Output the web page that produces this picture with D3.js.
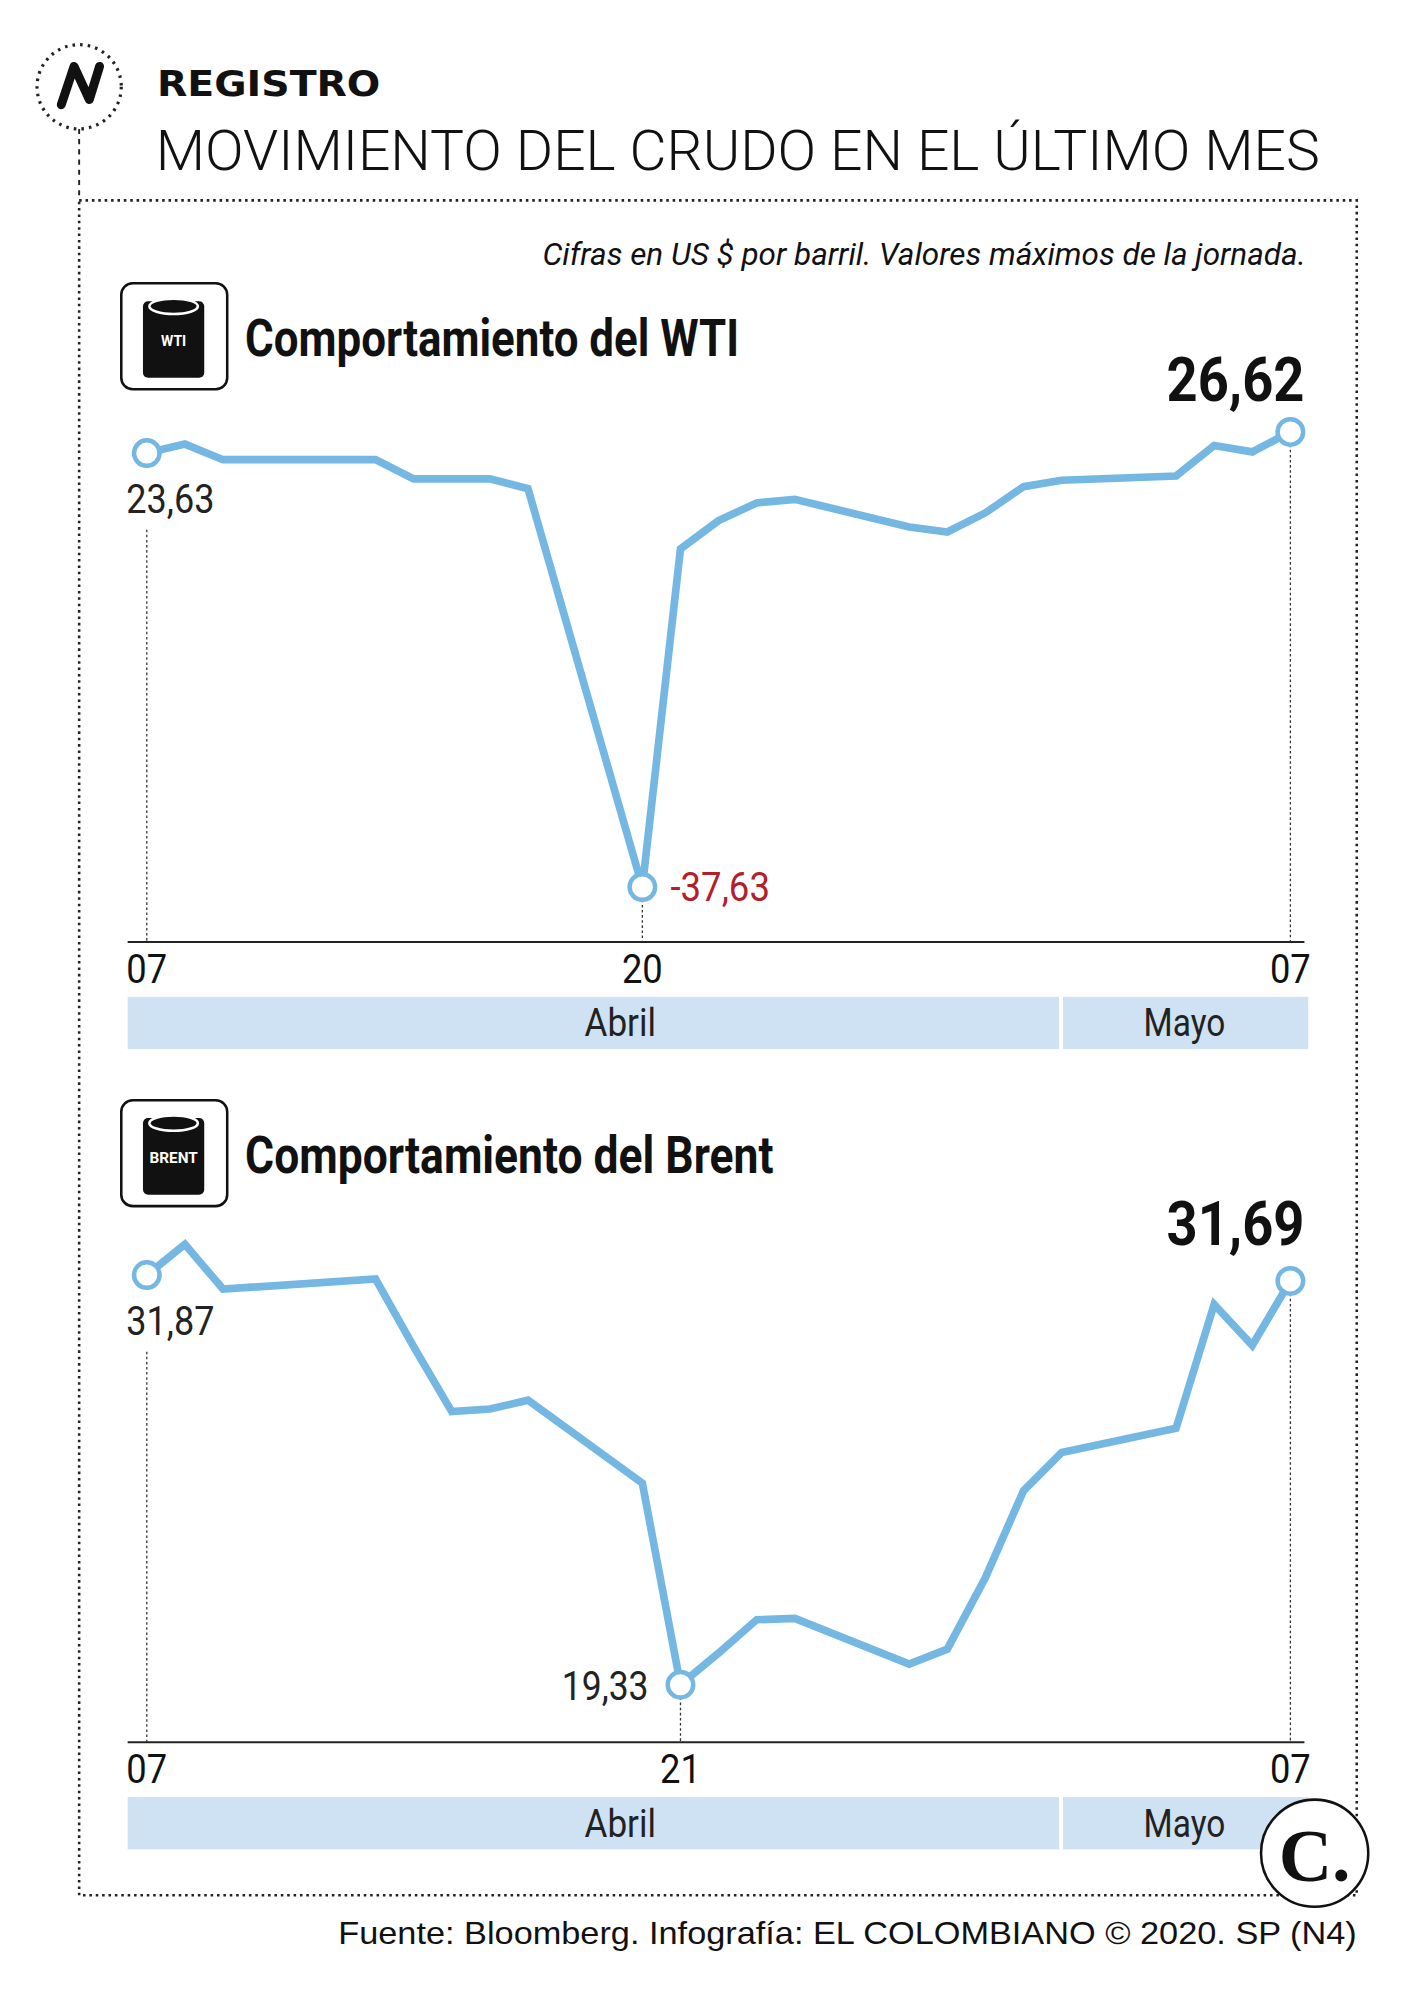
<!DOCTYPE html>
<html><head><meta charset="utf-8">
<script src="https://cdn.jsdelivr.net/npm/d3@7"></script>
<style>
body{margin:0;background:#fff}
svg{display:block}
.nar{font-family:Roboto,"DejaVu Sans Condensed",sans-serif}
</style></head><body>
<svg id="c" width="1404" height="2000" viewBox="0 0 1100 1567"></svg>
<script>
// Data: date strings (trading days) and daily highs
const wtiDates = ['2020-04-07','2020-04-08','2020-04-09','2020-04-13','2020-04-14','2020-04-15','2020-04-16','2020-04-17','2020-04-20','2020-04-21','2020-04-22','2020-04-23','2020-04-24','2020-04-27','2020-04-28','2020-04-29','2020-04-30','2020-05-01','2020-05-04','2020-05-05','2020-05-06','2020-05-07'];
const wtiValues = [23.63,24.9,22.7,22.7,20.0,20.0,20.0,18.6,-37.63,10.1,14.1,16.6,17.1,13.2,12.5,15.2,18.9,19.8,20.4,24.7,23.8,26.62];
const brentDates = wtiDates;
const brentValues = [31.87,32.81,31.44,31.75,29.68,27.69,27.77,28.04,25.5,19.33,20.3,21.32,21.36,19.96,20.42,22.61,25.27,26.44,27.18,30.97,29.72,31.69];
const months = [{name:'Abril', from:'2020-04-06', to:'2020-05-01'}, {name:'Mayo', from:'2020-05-01', to:'2020-05-07'}];

const svg = d3.select('#c');
const parse = d3.timeParse('%Y-%m-%d');
const fmt = v => d3.format('.2f')(Math.abs(v)).replace('.', ',');
const lineColor = '#74b7e3', bandColor = '#cfe2f3';
const x = d3.scaleTime().domain([parse('2020-04-07'), parse('2020-05-07')]).range([115, 1011]);

// condensed text: squeeze to the width seen in the original
function squeeze(sel, w) {
  return sel.attr('textLength', w).attr('lengthAdjust', 'spacingAndGlyphs');
}

// header
svg.append('circle').attr('cx',62).attr('cy',68).attr('r',33).attr('fill','none')
  .attr('stroke','#222').attr('stroke-width',2.5).attr('stroke-dasharray','2 4');
svg.append('path').attr('d','M48,82 L58,52 L70,78 L78,52').attr('fill','none')
  .attr('stroke','#111').attr('stroke-width',7).attr('stroke-linecap','round').attr('stroke-linejoin','round');
svg.append('line').attr('x1',62).attr('x2',62).attr('y1',101).attr('y2',157)
  .attr('stroke','#222').attr('stroke-width',1.5).attr('stroke-dasharray','4 4');
squeeze(svg.append('text').attr('x',123).attr('y',75).attr('font-family','DejaVu Sans').attr('font-weight','bold')
  .attr('font-size',28).attr('fill','#111').text('REGISTRO'), 175);
squeeze(svg.append('text').attr('x',122).attr('y',133).attr('class','nar').attr('font-weight',300)
  .attr('font-size',44).attr('fill','#111').text('MOVIMIENTO DEL CRUDO EN EL ÚLTIMO MES'), 912);
svg.append('rect').attr('x',62).attr('y',157).attr('width',1001).attr('height',1328).attr('fill','none')
  .attr('stroke','#222').attr('stroke-width',2).attr('stroke-dasharray','2 3');
squeeze(svg.append('text').attr('class','nar').attr('x',425).attr('y',208)
  .attr('font-style','italic').attr('font-size',25).attr('fill','#111')
  .text('Cifras en US $ por barril. Valores máximos de la jornada.'), 598);

function panel(o) {
  const g = svg.append('g');
  // icon
  g.append('rect').attr('x',95).attr('y',o.top).attr('width',83).attr('height',83).attr('rx',9)
    .attr('fill','#fff').attr('stroke','#111').attr('stroke-width',2);
  g.append('rect').attr('x',112).attr('y',o.top+14).attr('width',48).attr('height',60).attr('rx',4).attr('fill','#111');
  g.append('ellipse').attr('cx',136).attr('cy',o.top+18).attr('rx',19).attr('ry',6)
    .attr('fill','#111').attr('stroke','#fff').attr('stroke-width',2);
  g.append('text').attr('class','nar').attr('x',136).attr('y',o.top+49).attr('text-anchor','middle')
    .attr('font-size',o.tag.length > 3 ? 12 : 11).attr('font-weight','bold').attr('fill','#fff').text(o.tag);
  squeeze(g.append('text').attr('class','nar').attr('x',192).attr('y',o.top+57).attr('font-weight','bold')
    .attr('font-size',40).attr('fill','#111').text(o.title), o.titleW);

  const data = o.dates.map((d, i) => ({d: parse(d), v: o.values[i]}));
  const y = d3.scaleLinear().domain(o.dom).range(o.rng);
  const base = o.base;
  // month band
  months.forEach((m, i) => {
    const x0 = i === 0 ? 100 : x(parse(m.from)) + 1;
    const x1 = i === 0 ? x(parse(m.to)) - 2 : 1025;
    g.append('rect').attr('x',x0).attr('y',base+43).attr('width',x1-x0).attr('height',41).attr('fill',bandColor);
    squeeze(g.append('text').attr('class','nar').attr('x',i === 0 ? 486 : 928).attr('y',base+74).attr('text-anchor','middle')
      .attr('font-size',30).attr('fill','#222').text(m.name), i === 0 ? 56 : 64);
  });
  g.append('line').attr('x1',100).attr('x2',1022).attr('y1',base).attr('y2',base).attr('stroke','#222').attr('stroke-width',1.5);
  // marked points
  const iMin = d3.minIndex(data, d => d.v);
  const marked = [0, iMin, data.length - 1];
  marked.forEach(i => {
    g.append('line').attr('x1',x(data[i].d)).attr('x2',x(data[i].d)).attr('y1',y(data[i].v)+(i===0?60:10)).attr('y2',base)
      .attr('stroke','#333').attr('stroke-width',1).attr('stroke-dasharray','2 2');
    squeeze(g.append('text').attr('class','nar').attr('x',x(data[i].d)).attr('y',base+32).attr('text-anchor','middle')
      .attr('font-size',32).attr('fill','#111').text(d3.timeFormat('%d')(data[i].d)), 32);
  });
  g.append('path').datum(data)
    .attr('d', d3.line().x(d => x(d.d)).y(d => y(d.v)))
    .attr('fill','none').attr('stroke',lineColor).attr('stroke-width',6).attr('stroke-linejoin','miter');
  marked.forEach(i => {
    g.append('circle').attr('cx',x(data[i].d)).attr('cy',y(data[i].v)).attr('r',10)
      .attr('fill','#fff').attr('stroke',lineColor).attr('stroke-width',3.5);
  });
  const f = data[0], m = data[iMin], l = data[data.length - 1];
  squeeze(g.append('text').attr('class','nar').attr('x',99).attr('y',y(f.v)+47).attr('font-size',32).attr('fill','#222').text(fmt(f.v)), 69);
  if (o.minRight) {
    squeeze(g.append('text').attr('class','nar').attr('x',x(m.d)+22).attr('y',y(m.v)+11).attr('font-size',32).attr('fill','#b3202b').text('-' + fmt(m.v)), 78);
  } else {
    squeeze(g.append('text').attr('class','nar').attr('x',x(m.d)-25).attr('y',y(m.v)+12).attr('text-anchor','end').attr('font-size',32).attr('fill','#222').text(fmt(m.v)), 68);
  }
  squeeze(g.append('text').attr('class','nar').attr('x',1022).attr('y',y(l.v)+o.lastDy).attr('text-anchor','end')
    .attr('font-weight','bold').attr('font-size',48).attr('fill','#111').text(fmt(l.v)), 108);
}

panel({top:222, tag:'WTI', title:'Comportamiento del WTI', titleW:387, dates:wtiDates, values:wtiValues,
  dom:[-37.63, 23.63], rng:[695, 355], base:738, minRight:true, lastDy:-24});
panel({top:862, tag:'BRENT', title:'Comportamiento del Brent', titleW:414, dates:brentDates, values:brentValues,
  dom:[19.33, 31.87], rng:[1320, 999], base:1365, minRight:false, lastDy:-28});

// logo + footer
svg.append('circle').attr('cx',1030).attr('cy',1452).attr('r',42).attr('fill','#fff').attr('stroke','#111').attr('stroke-width',2);
svg.append('text').attr('x',1030).attr('y',1474).attr('text-anchor','middle').attr('font-family','Liberation Serif, serif')
  .attr('font-weight','bold').attr('font-size',58).attr('fill','#111').text('C.');
squeeze(svg.append('text').attr('x',265).attr('y',1523).attr('font-family','Liberation Sans, sans-serif')
  .attr('font-size',25).attr('fill','#111').text('Fuente: Bloomberg. Infografía: EL COLOMBIANO © 2020. SP (N4)'), 798);
</script></body></html>
